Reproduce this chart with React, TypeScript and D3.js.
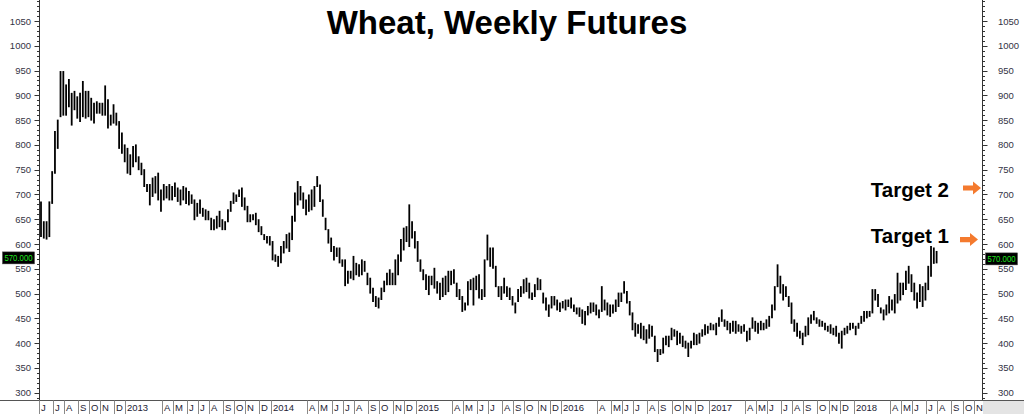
import React from 'react';
import * as d3 from 'd3';

const title = 'Wheat, Weekly Futures';
const firstWeek = new Date(2012, 5, 1);
const lastClose = 570;
const monthLetters = ['J', 'F', 'M', 'A', 'M', 'J', 'J', 'A', 'S', 'O', 'N', 'D'];
const labelMonthsStart = new Date(2012, 5, 1);
const labelMonthsEnd = new Date(2018, 10, 1);
const yLabelValues = d3.range(300, 1051, 50);
const targets = [
  { label: 'Target 1', price: 609, textPrice: 602 },
  { label: 'Target 2', price: 713, textPrice: 695 },
];

const highs = [
  685, 645, 645, 685, 746, 827, 850, 948, 948, 921,
  932, 904, 908, 897, 904, 928, 908, 908, 894, 884,
  887, 884, 884, 919, 891, 860, 881, 864, 847, 824,
  800, 793, 780, 797, 800, 776, 763, 750, 720, 720,
  733, 736, 743, 709, 720, 716, 720, 716, 723, 713,
  709, 716, 713, 706, 699, 689, 682, 689, 672, 669,
  666, 652, 649, 656, 666, 649, 645, 669, 686, 703,
  699, 709, 713, 693, 676, 659, 659, 662, 649, 635,
  619, 615, 615, 605, 578, 575, 595, 605, 619, 622,
  656, 703, 726, 716, 703, 689, 699, 709, 716, 736,
  719, 689, 652, 629, 612, 595, 592, 592, 568, 568,
  545, 545, 575, 561, 558, 568, 565, 541, 531, 511,
  494, 491, 511, 525, 541, 548, 541, 568, 578, 609,
  632, 635, 679, 645, 625, 605, 568, 548, 538, 535,
  535, 551, 524, 521, 531, 535, 545, 545, 548, 521,
  508, 494, 481, 524, 528, 531, 535, 538, 508, 568,
  618, 592, 592, 555, 514, 514, 531, 514, 511, 494,
  481, 508, 514, 528, 531, 521, 501, 518, 531, 528,
  501, 491, 477, 494, 494, 487, 481, 484, 487, 487,
  491, 477, 471, 471, 467, 464, 474, 481, 481, 477,
  467, 514, 487, 481, 477, 477, 487, 501, 501, 524,
  504, 484, 461, 440, 437, 440, 434, 427, 437, 434,
  414, 387, 387, 410, 414, 414, 430, 427, 424, 420,
  414, 404, 400, 404, 420, 417, 420, 427, 437, 434,
  440, 437, 440, 451, 467, 447, 444, 440, 444, 444,
  437, 434, 437, 424, 430, 451, 444, 440, 444, 440,
  447, 454, 477, 514, 558, 535, 518, 514, 494, 481,
  447, 440, 424, 420, 434, 451, 457, 464, 451, 447,
  444, 440, 434, 437, 430, 434, 420, 424, 430, 434,
  440, 440, 434, 440, 454, 464, 464, 464, 508, 508,
  498, 471, 467, 477, 494, 487, 498, 541, 521, 521,
  545, 555, 538, 521, 501, 518, 514, 521, 555, 595,
  592, 585,
];

const lows = [
  615, 612, 610, 615, 682, 743, 793, 857, 860, 860,
  877, 840, 871, 854, 847, 857, 854, 857, 850, 844,
  864, 864, 860, 860, 834, 840, 844, 840, 793, 783,
  766, 743, 740, 756, 766, 750, 740, 716, 706, 679,
  696, 703, 689, 666, 689, 693, 689, 689, 696, 686,
  679, 689, 682, 679, 682, 649, 656, 662, 656, 649,
  649, 629, 629, 632, 635, 629, 629, 645, 666, 682,
  686, 696, 676, 669, 645, 645, 649, 639, 625, 619,
  609, 602, 598, 568, 565, 555, 562, 582, 592, 585,
  609, 646, 679, 689, 672, 659, 666, 669, 676, 716,
  686, 656, 629, 602, 585, 568, 575, 562, 555, 516,
  521, 531, 528, 538, 535, 538, 545, 518, 501, 484,
  474, 471, 488, 504, 518, 518, 518, 518, 538, 565,
  588, 605, 595, 612, 592, 565, 545, 528, 508, 498,
  518, 511, 501, 488, 494, 498, 504, 518, 521, 494,
  488, 464, 467, 477, 508, 477, 508, 491, 488, 494,
  568, 555, 551, 514, 494, 488, 501, 494, 488, 477,
  461, 484, 494, 501, 504, 491, 488, 494, 508, 508,
  481, 467, 454, 471, 477, 467, 464, 471, 467, 474,
  471, 464, 459, 454, 440, 437, 457, 461, 464, 457,
  451, 464, 467, 457, 454, 461, 464, 474, 484, 501,
  481, 457, 427, 414, 420, 410, 407, 400, 410, 414,
  383, 363, 377, 380, 397, 393, 407, 414, 397, 400,
  393, 390, 373, 390, 397, 397, 400, 414, 417, 420,
  427, 427, 417, 434, 444, 434, 427, 420, 424, 420,
  424, 420, 424, 404, 407, 430, 424, 420, 427, 427,
  430, 434, 451, 467, 514, 501, 487, 494, 474, 440,
  424, 414, 410, 397, 414, 417, 440, 447, 440, 434,
  434, 427, 424, 420, 417, 414, 400, 390, 417, 420,
  427, 430, 417, 430, 440, 444, 451, 454, 461, 487,
  474, 461, 447, 457, 461, 467, 461, 481, 487, 498,
  508, 521, 504, 487, 471, 484, 474, 487, 508, 535,
  561, 562,
];

const FONT = '"Liberation Sans", Arial, sans-serif';

export default function App() {
  const W = 1024;
  const H = 414;
  const leftAxisX = 39.5;
  const rightAxisX = 982.5;
  const bottomY = 400.5;

  const dates = highs.map((_, i) => d3.timeWeek.offset(firstWeek, i));
  const x = d3.scaleTime().domain([dates[0], dates[dates.length - 1]]).range([41, 936.6]);
  const y = d3.scaleLinear().domain([300, 1050]).range([392.7, 21]);

  const tickValues = d3.range(290, 1100, 10).filter((v) => y(v) >= 0 && y(v) <= 400);

  const months = d3.timeMonth.range(labelMonthsStart, d3.timeMonth.offset(labelMonthsEnd, 1));
  const monthLabels = months
    .filter((m) => m.getMonth() !== 1 && m.getMonth() !== 2)
    .map((m) => {
      const fri = d3.timeFriday.ceil(m);
      const xs = Math.round(x(fri)) - 1.5;
      const label = m.getMonth() === 0 ? String(m.getFullYear()) : monthLetters[m.getMonth()];
      return { xs, label };
    });

  const yc = y(lastClose);

  const arrow = (x0: number, cy: number) => {
    const len = 18;
    const shaft = 2.6;
    const head = 6.5;
    const hx = x0 + len - 8;
    return `M${x0},${cy - shaft} L${hx},${cy - shaft} L${hx},${cy - head} L${x0 + len},${cy} L${hx},${cy + head} L${hx},${cy + shaft} L${x0},${cy + shaft} Z`;
  };

  return (
    <svg
      width={W}
      height={H}
      style={{ position: 'absolute', left: 0, top: 0, background: '#fff' }}
      fontFamily={FONT}
    >
      <rect x={0} y={0} width={W} height={H} fill="#fff" />

      {/* bars */}
      <g>
        {dates.map((d, i) => (
          <line
            key={i}
            x1={x(d)}
            x2={x(d)}
            y1={y(highs[i]) - 0.5}
            y2={y(lows[i]) + 0.5}
            stroke="#000"
            strokeWidth={1.8}
          />
        ))}
      </g>

      {/* left axis */}
      <line x1={leftAxisX} x2={leftAxisX} y1={0} y2={bottomY} stroke="#333" strokeWidth={1} />
      {tickValues.map((v) => {
        const yy = Math.round(y(v)) + 0.5;
        const major = v % 50 === 0;
        return (
          <g key={'l' + v}>
            <line x1={leftAxisX - (major ? 5 : 2.5)} x2={leftAxisX} y1={yy} y2={yy} stroke="#333" strokeWidth={1} />
            <line x1={rightAxisX} x2={rightAxisX + (major ? 5 : 2.5)} y1={yy} y2={yy} stroke="#333" strokeWidth={1} />
          </g>
        );
      })}
      {yLabelValues.map((v) => (
        <g key={'t' + v}>
          <text x={31} y={y(v) + 3.5} textAnchor="end" fontSize={9.5} fill="#333344">
            {v}
          </text>
          <text x={998} y={y(v) + 3.5} textAnchor="start" fontSize={9.5} fill="#333344">
            {v}
          </text>
        </g>
      ))}
      <line x1={rightAxisX} x2={rightAxisX} y1={0} y2={bottomY} stroke="#333" strokeWidth={1} />

      {/* bottom strip */}
      <line x1={0} x2={W} y1={bottomY} y2={bottomY} stroke="#555" strokeWidth={1} />
      <rect x={rightAxisX + 0.5} y={bottomY + 0.5} width={W - rightAxisX} height={H - bottomY} fill="#e4e4e4" />
      {monthLabels.map((m, i) => (
        <g key={'m' + i}>
          <line x1={m.xs} x2={m.xs} y1={bottomY} y2={H} stroke="#8a8a8a" strokeWidth={1} />
          <text x={m.xs + 1.5} y={411} fontSize={9.5} fill="#222233">
            {m.label}
          </text>
        </g>
      ))}

      {/* last price boxes */}
      <rect x={2.5} y={yc - 7} width={32} height={12} fill="#000" stroke="#444" strokeWidth={0.5} />
      <text x={18.5} y={yc + 2.3} textAnchor="middle" fontSize={8.6} textLength={28} lengthAdjust="spacingAndGlyphs" fill="#1fe41f">
        {lastClose.toFixed(3)}
      </text>
      <rect x={985.5} y={yc - 6} width={32} height={12} fill="#000" stroke="#444" strokeWidth={0.5} />
      <text x={1001.5} y={yc + 3.3} textAnchor="middle" fontSize={8.6} textLength={28} lengthAdjust="spacingAndGlyphs" fill="#1fe41f">
        {lastClose.toFixed(3)}
      </text>

      {/* title */}
      <text x={507} y={34} textAnchor="middle" fontSize={33} fontWeight="bold" fill="#000">
        {title}
      </text>

      {/* targets */}
      {targets.map((t) => (
        <g key={t.label}>
          <text x={949} y={y(t.textPrice)} textAnchor="end" fontSize={20.5} fontWeight="bold" fill="#000">
            {t.label}
          </text>
          <path d={arrow(t.label === 'Target 1' ? 960 : 963, y(t.price))} fill="#f47a2e" />
        </g>
      ))}
    </svg>
  );
}
